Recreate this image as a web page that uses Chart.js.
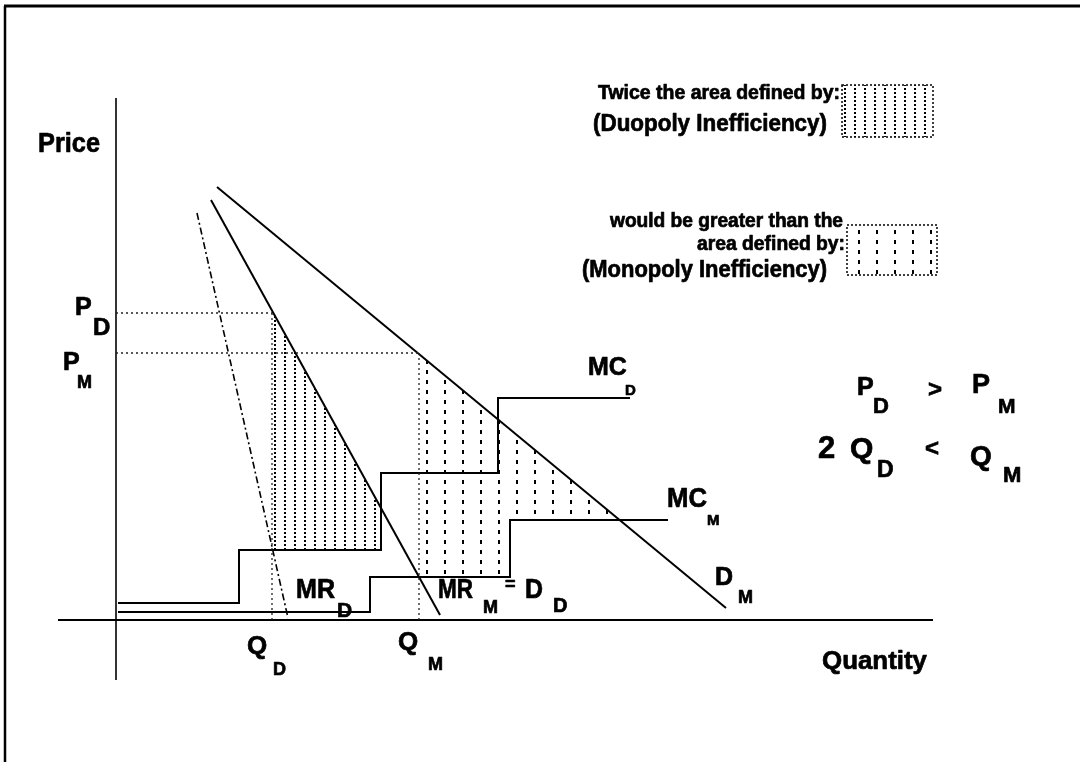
<!DOCTYPE html>
<html>
<head>
<meta charset="utf-8">
<title>Duopoly vs Monopoly Inefficiency</title>
<script src="https://cdn.jsdelivr.net/npm/chart.js@4.4.1/dist/chart.umd.min.js"></script>
<style>
  html, body { margin: 0; padding: 0; background: #fff; }
  #wrap { width: 1080px; height: 762px; }
</style>
</head>
<body>
<div id="wrap"><canvas id="chart" width="1080" height="762"></canvas></div>
<script>
// Axis ranges (quantity / price units)
const qRange = [-5.8, 81.7];
const pRange = [-6.0, 52.2];

// Demand and marginal revenue lines
const demandM_q = [10.1, 61.0];
const demandM_p = [43.3, 1.2];
const demandD_q = [9.5, 32.4];   // D_D = MR_M
const demandD_p = [42.0, 0.5];
const mrD_q = [8.1, 17.2];
const mrD_p = [40.7, 0.2];

// Marginal cost step functions
const mcD_q = [0.2, 12.3, 26.5, 38.2, 51.4];
const mcD_p = [1.7, 7.0, 14.7, 22.2, 22.2];
const mcM_q = [0.2, 25.4, 39.4, 55.2];
const mcM_p = [0.8, 4.3, 10.0, 10.0];

// Equilibrium prices and quantities
const eqPrice = [30.7, 26.7];     // P_D, P_M
const eqQty = [15.6, 30.3];       // Q_D, Q_M

// Inefficiency areas (polygon vertices)
const duoArea_q = [15.6, 26.5, 26.5, 15.6, 15.6];
const duoArea_p = [30.9, 11.2, 7.0, 7.0, 30.9];
const monoArea_q = [30.3, 50.4, 39.4, 39.4, 30.3, 30.3];
const monoArea_p = [26.6, 10.0, 10.0, 4.3, 4.3, 26.6];

const FONT = '"Liberation Sans", Arial, Helvetica, sans-serif';

// text labels: [text, left, baseline, size, maxWidth]
const labels = [
  ['Price', 38, 152, 28, 62],
  ['Quantity', 822, 669, 26, 105],
  ['P', 75, 315, 25], ['D', 93, 335, 24],
  ['P', 63, 370, 25], ['M', 77, 388, 18, 21],
  ['Q', 247, 654, 26], ['D', 273, 675, 18, 14],
  ['Q', 398, 650, 26], ['M', 428, 670, 18, 20],
  ['MC', 588, 375, 25, 39], ['D', 625, 395, 15, 13],
  ['MC', 667, 507, 27, 40], ['M', 707, 525, 15, 15],
  ['D', 715, 585, 25], ['M', 738, 603, 18, 18],
  ['MR', 296, 598, 27, 39], ['D', 337, 617, 21, 18],
  ['MR', 438, 598, 27, 35], ['M', 483, 613, 18, 19], ['=', 505, 590, 18],
  ['D', 525, 598, 27, 18], ['D', 553, 612, 20, 15],
  ['P', 857, 395, 25], ['D', 873, 413, 22, 19], ['>', 928, 397, 24],
  ['P', 972, 393, 27], ['M', 998, 413, 21, 19],
  ['2', 818, 458, 31], ['Q', 850, 458, 30], ['D', 877, 477, 23, 18], ['<', 925, 456, 24],
  ['Q', 970, 465, 28], ['M', 1003, 482, 22, 19],
  ['Twice the area defined by:', 598, 99, 19.5, 242],
  ['(Duopoly Inefficiency)', 593, 131, 23, 234],
  ['would be greater than the', 610, 227, 19.5, 233],
  ['area defined by:', 697, 250, 19.5, 148],
  ['(Monopoly Inefficiency)', 582, 277, 23, 245]
];

function pts(qs, ps) {
  return qs.map((q, i) => ({ x: q, y: ps[i] }));
}

function makePattern(w, h, x, dash, lw) {
  const c = document.createElement('canvas');
  c.width = w;
  c.height = h;
  const g = c.getContext('2d');
  g.fillStyle = '#000';
  g.fillRect(x, 0, lw, dash);
  return g.createPattern(c, 'repeat');
}

const duoPattern = makePattern(10, 4, 4, 2, 2);
const monoPattern = makePattern(18, 10, 12, 4, 2);

function solid(data, width) {
  return { data, borderColor: '#000', borderWidth: width || 2, pointRadius: 0, fill: false, tension: 0 };
}
function dotted(data) {
  return { data, borderColor: '#222', borderWidth: 1.3, borderDash: [2, 3], pointRadius: 0, fill: false };
}

const framePlugin = {
  id: 'frameAndText',
  afterDraw(chart) {
    const ctx = chart.ctx;
    ctx.save();
    // scanned page frame
    ctx.strokeStyle = '#000';
    ctx.lineWidth = 3;
    ctx.beginPath();
    ctx.moveTo(4, 6);
    ctx.lineTo(1080, 6);
    ctx.stroke();
    ctx.lineWidth = 2.5;
    ctx.beginPath();
    ctx.moveTo(5, 6);
    ctx.lineTo(5, 762);
    ctx.stroke();

    // legend swatches
    const boxes = [[842, 85, 91, 52, duoPattern], [847, 225, 90, 50, monoPattern]];
    boxes.forEach(([x, y, w, h, pat]) => {
      ctx.fillStyle = pat;
      ctx.fillRect(x, y, w, h);
      ctx.setLineDash([2, 2]);
      ctx.lineWidth = 1.5;
      ctx.strokeStyle = '#000';
      ctx.strokeRect(x, y, w, h);
    });
    ctx.setLineDash([]);

    // labels (slight stroke to mimic the heavy scanned type)
    ctx.fillStyle = '#000';
    ctx.strokeStyle = '#000';
    ctx.lineWidth = 0.7;
    ctx.lineJoin = 'round';
    ctx.textBaseline = 'alphabetic';
    ctx.textAlign = 'left';
    labels.forEach(([t, x, y, size, w]) => {
      ctx.font = `bold ${size}px ${FONT}`;
      if (w) {
        ctx.fillText(t, x, y, w);
        ctx.strokeText(t, x, y, w);
      } else {
        ctx.fillText(t, x, y);
        ctx.strokeText(t, x, y);
      }
    });
    ctx.restore();
  }
};

new Chart(document.getElementById('chart'), {
  type: 'line',
  data: {
    datasets: [
      { data: pts(duoArea_q, duoArea_p), borderWidth: 0, pointRadius: 0, fill: 'shape', backgroundColor: duoPattern },
      { data: pts(monoArea_q, monoArea_p), borderWidth: 0, pointRadius: 0, fill: 'shape', backgroundColor: monoPattern },
      dotted(pts([0, eqQty[0]], [eqPrice[0], eqPrice[0]])),
      dotted(pts([0, eqQty[1]], [eqPrice[1], eqPrice[1]])),
      dotted(pts([eqQty[0], eqQty[0]], [eqPrice[0], 0])),
      dotted(pts([eqQty[1], eqQty[1]], [eqPrice[1], 0])),
      solid(pts(qRange, [0, 0]), 2),
      solid(pts([0, 0], pRange), 1.6),
      solid(pts(demandM_q, demandM_p)),
      solid(pts(demandD_q, demandD_p)),
      Object.assign(solid(pts(mrD_q, mrD_p), 1.6), { borderDash: [7, 3, 2, 3] }),
      Object.assign(solid(pts(mcD_q, mcD_p)), { stepped: 'before' }),
      Object.assign(solid(pts(mcM_q, mcM_p)), { stepped: 'before' })
    ]
  },
  options: {
    responsive: false,
    devicePixelRatio: 1,
    animation: false,
    layout: { padding: { left: 58, right: 147, top: 98, bottom: 82 } },
    scales: {
      x: { type: 'linear', min: qRange[0], max: qRange[1], display: false },
      y: { type: 'linear', min: pRange[0], max: pRange[1], display: false }
    },
    plugins: {
      legend: { display: false },
      tooltip: { enabled: false }
    }
  },
  plugins: [framePlugin]
});
</script>
</body>
</html>
